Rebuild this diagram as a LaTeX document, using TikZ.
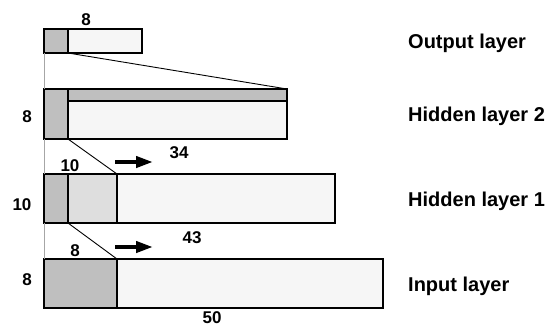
\documentclass[tikz,border=0pt]{standalone}
\usepackage{fontspec}
\setmainfont{Liberation Sans}
\usetikzlibrary{arrows.meta,positioning}
\definecolor{unitdark}{gray}{0.75}
\definecolor{unitmid}{gray}{0.87}
\definecolor{unitpale}{gray}{0.965}

\begin{document}
\begin{tikzpicture}[
  x=1pt,y=-1pt,
  layer/.style={draw,line width=2pt,fill=unitpale,anchor=north west,inner sep=0pt,outer sep=0pt},
  block/.style={draw,line width=2pt,anchor=north west,inner sep=0pt,outer sep=0pt},
  link/.style={line width=.9pt},
  side/.style={black!35,line width=.9pt},
  slide/.style={line width=4pt,-{Triangle[length=17pt,width=11pt]}},
  num/.style={font=\fontsize{17}{17}\bfseries\selectfont,anchor=base,inner sep=0pt},
  layername/.style={font=\fontsize{20}{20}\bfseries\selectfont,anchor=base west,inner sep=0pt}
]
  \useasboundingbox (0,0) rectangle (553,327);

  % layers
  \node[layer,minimum width=98pt,minimum height=24pt] (output) at (44,29) {};
  \node[block,fill=unitdark,minimum width=24pt,minimum height=24pt] (outcore) at (44,29) {};

  \node[layer,minimum width=243pt,minimum height=50pt] (hidden2) at (44,89) {};
  \node[block,fill=unitdark,minimum width=243pt,minimum height=12pt] (h2band) at (44,89) {};
  \node[block,fill=unitdark,minimum width=24pt,minimum height=50pt] (h2core) at (44,89) {};

  \node[layer,minimum width=291pt,minimum height=49pt] (hidden1) at (44,174) {};
  \node[block,fill=unitdark,minimum width=24pt,minimum height=49pt] (h1core) at (44,174) {};
  \node[block,fill=unitmid,minimum width=49pt,minimum height=49pt] (h1carry) at (h1core.north east) {};

  \node[layer,minimum width=339pt,minimum height=49pt] (input) at (44,259) {};
  \node[block,fill=unitdark,minimum width=73pt,minimum height=49pt] (incore) at (44,259) {};

  % links between layers
  \draw[side] (output.south west) -- (hidden2.north west);
  \draw[link] (outcore.south east) -- (hidden2.north east);
  \draw[side] (hidden2.south west) -- (hidden1.north west);
  \draw[link] (h2core.south east) -- (h1carry.north east);
  \draw[side] (hidden1.south west) -- (input.north west);
  \draw[link] (h1core.south east) -- (incore.north east);

  % growth arrows
  \coordinate (grow1a) at (115,162);
  \coordinate (grow1b) at (153,162);
  \coordinate (grow2a) at (115,247);
  \coordinate (grow2b) at (153,247);
  \draw[slide] (grow1a) -- (grow1b);
  \draw[slide] (grow2a) -- (grow2b);

  % sizes
  \node[num] (outsize) at (86,25) {8};
  \node[num] (h2size) at (27,122) {8};
  \node[num] (h1size) at (22,210) {10};
  \node[num] (insize) at (27,285) {8};
  \node[num] (h1keep) at (70,171) {10};
  \node[num] (h2len) at (179,158) {34};
  \node[num] (inkeep) at (75,256) {8};
  \node[num] (h1len) at (192,243) {43};
  \node[num] (inlen) at (212,323) {50};

  % layer names
  \node[layername] (outname) at (408,48) {Output layer};
  \node[layername] (h2name) at (408,121) {Hidden layer 2};
  \node[layername] (h1name) at (408,206) {Hidden layer 1};
  \node[layername] (inname) at (408,291) {Input layer};
\end{tikzpicture}
\end{document}
